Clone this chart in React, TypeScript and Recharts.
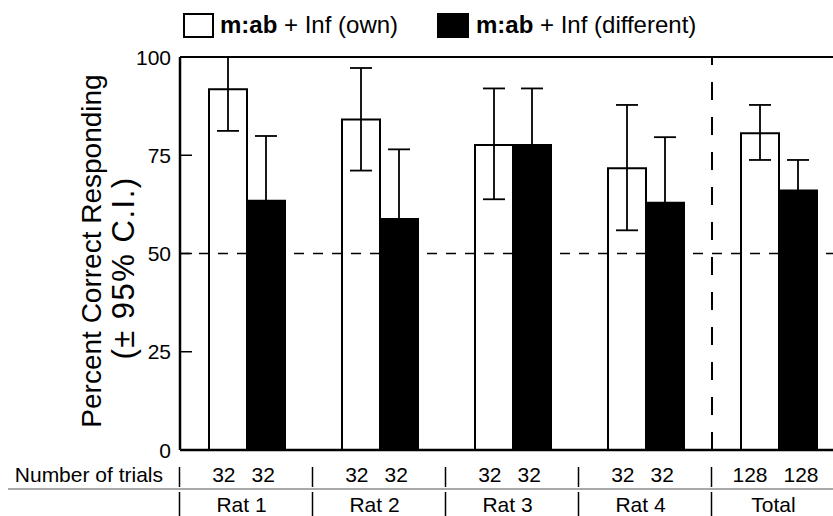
import React from "react";
import { BarChart, Bar, XAxis, YAxis, ErrorBar, ReferenceLine } from "recharts";

const groups = ["Rat 1", "Rat 2", "Rat 3", "Rat 4", "Total"];
const ownValues = [91.8, 84.1, 77.6, 71.7, 80.6];
const ownLow = [81.2, 71.1, 63.8, 55.9, 73.8];
const ownHigh = [100, 97.2, 92.0, 87.8, 87.8];
const diffValues = [63.4, 58.8, 77.6, 62.9, 66.0];
const diffLow = [46.9, 41.1, 63.2, 46.2, 58.2];
const diffHigh = [79.9, 76.5, 92.0, 79.6, 73.8];
const ownTrials = [32, 32, 32, 32, 128];
const diffTrials = [32, 32, 32, 32, 128];
const yTicks = [0, 25, 50, 75, 100];

const data = groups.map((g, i) => ({
  group: g,
  own: ownValues[i],
  ownErr: [ownValues[i] - ownLow[i], ownHigh[i] - ownValues[i]],
  diff: diffValues[i],
  diffErr: [diffValues[i] - diffLow[i], diffHigh[i] - diffValues[i]],
  ownN: ownTrials[i],
  diffN: diffTrials[i],
}));

const FONT = '"Liberation Sans", Arial, Helvetica, sans-serif';

const YTick = (props: any) => {
  const { x, y, payload } = props;
  const v = payload.value;
  return (
    <g>
      <text x={x - 1} y={y} dy="0.36em" textAnchor="end" fontSize={21} fontFamily={FONT} fill="#000">
        {v}
      </text>
      {v > 0 && v < 100 ? (
        <line x1={180} x2={192} y1={y} y2={y} stroke="#000" strokeWidth={1.5} />
      ) : null}
    </g>
  );
};

const TableTick = (props: any) => {
  const { x, payload, index } = props;
  const d = data[index] || data.find((r) => r.group === payload.value);
  return (
    <g fontFamily={FONT} fill="#000">
      {index === 0 ? (
        <g>
          <text x={163} y={482} textAnchor="end" fontSize={21}>
            Number of trials
          </text>
          <line x1={8} x2={860} y1={489} y2={489} stroke="#555" strokeWidth={1} />
        </g>
      ) : null}
      <line x1={x - 67} x2={x - 67} y1={467} y2={487} stroke="#000" strokeWidth={1.5} />
      <line x1={x - 67} x2={x - 67} y1={492} y2={516} stroke="#000" strokeWidth={1.5} />
      <text x={x - 11} y={482} textAnchor="end" fontSize={21}>
        {d.ownN}
      </text>
      <text x={x + 5} y={482} textAnchor="start" fontSize={21}>
        {d.diffN}
      </text>
      <text x={x - 5} y={512} textAnchor="middle" fontSize={21}>
        {payload.value}
      </text>
    </g>
  );
};

export default function App() {
  return (
    <div
      style={{
        position: "absolute",
        left: 0,
        top: 0,
        width: 833,
        height: 516,
        overflow: "hidden",
        background: "#fff",
        fontFamily: FONT,
      }}
    >
      <div style={{ position: "absolute", left: 183, top: 13, width: 31, height: 25, border: "2px solid #000", boxSizing: "border-box", background: "#fff" }} />
      <div style={{ position: "absolute", left: 220, top: 10, fontSize: 24, lineHeight: "30px", whiteSpace: "nowrap" }}>
        <b>m:ab</b> + Inf (own)
      </div>
      <div style={{ position: "absolute", left: 437, top: 13, width: 32, height: 25, background: "#000" }} />
      <div style={{ position: "absolute", left: 476, top: 10, fontSize: 24, lineHeight: "30px", whiteSpace: "nowrap" }}>
        <b>m:ab</b> + Inf (different)
      </div>
      <div
        style={{
          position: "absolute",
          left: 92,
          top: 251,
          transform: "translate(-50%, -50%) rotate(-90deg)",
          fontSize: 28,
          whiteSpace: "nowrap",
          lineHeight: "32px",
        }}
      >
        Percent Correct Responding
      </div>
      <div
        style={{
          position: "absolute",
          left: 124,
          top: 268,
          transform: "translate(-50%, -50%) rotate(-90deg)",
          fontSize: 31,
          letterSpacing: 1.5,
          whiteSpace: "nowrap",
          lineHeight: "32px",
        }}
      >
        (± 95% C.I.)
      </div>
      <div style={{ position: "absolute", left: 0, top: 0 }}>
        <BarChart
          width={860}
          height={516}
          data={data}
          margin={{ top: 57, right: 15, bottom: 0, left: 0 }}
          barGap={0}
          barSize={38}
        >
          <XAxis
            dataKey="group"
            height={66}
            axisLine={{ stroke: "#000", strokeWidth: 2.5 }}
            tickLine={false}
            tick={<TableTick />}
            interval={0}
          />
          <YAxis
            width={180}
            domain={[0, 100]}
            ticks={yTicks}
            interval={0}
            axisLine={{ stroke: "#000", strokeWidth: 2.5 }}
            tickLine={false}
            tick={<YTick />}
          />
          <ReferenceLine y={100} stroke="#000" strokeWidth={2} />
          <ReferenceLine y={50} stroke="#000" strokeWidth={1.5} strokeDasharray="10 9" />
          <ReferenceLine x="Total" position="start" stroke="#000" strokeWidth={2} strokeDasharray="18 17" />
          <Bar dataKey="own" fill="#fff" stroke="#000" strokeWidth={2} isAnimationActive={false}>
            <ErrorBar dataKey="ownErr" direction="y" width={11} stroke="#000" strokeWidth={1.8} />
          </Bar>
          <Bar dataKey="diff" fill="#000" stroke="#000" strokeWidth={2} isAnimationActive={false}>
            <ErrorBar dataKey="diffErr" direction="y" width={11} stroke="#000" strokeWidth={1.8} />
          </Bar>
        </BarChart>
      </div>
    </div>
  );
}
